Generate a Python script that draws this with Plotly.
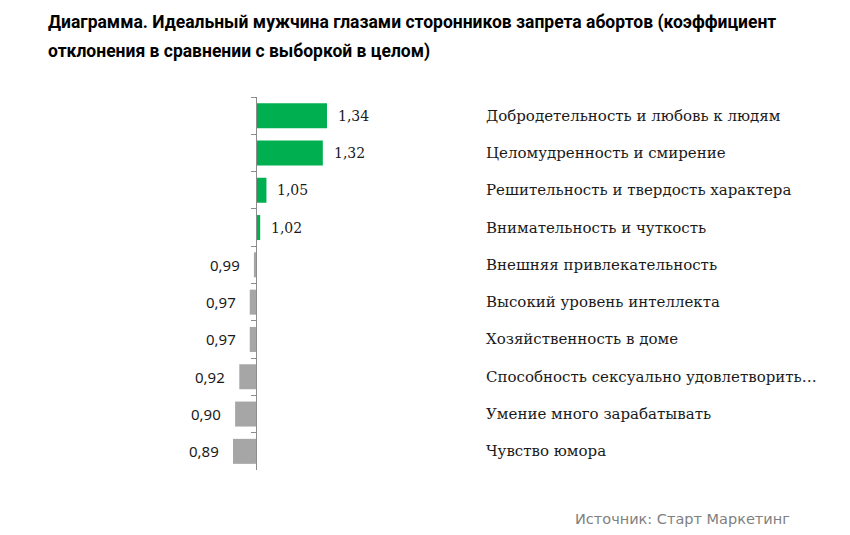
import plotly.graph_objects as go

categories = [
    "Добродетельность и любовь к людям",
    "Целомудренность и смирение",
    "Решительность и твердость характера",
    "Внимательность и чуткость",
    "Внешняя привлекательность",
    "Высокий уровень интеллекта",
    "Хозяйственность в доме",
    "Способность сексуально удовлетворить…",
    "Умение много зарабатывать",
    "Чувство юмора",
]
values = [1.34, 1.32, 1.05, 1.02, 0.99, 0.97, 0.97, 0.92, 0.90, 0.89]
baseline = 1.0

title_line1 = "Диаграмма. Идеальный мужчина глазами сторонников запрета абортов (коэффициент"
title_line2 = "отклонения в сравнении с выборкой в целом)"
source_text = "Источник: Старт Маркетинг"

GREEN = "#00B050"
GRAY = "#A6A6A6"
colors = [GREEN if v >= baseline else GRAY for v in values]

W, H = 850, 535
OFF = 8  # page body margin offset
ml, mr, mt, mb = 172, 20, 97 - OFF, 535 - (470 - OFF)
px_per_unit = 208.8
axis_px = 256 - OFF
x0 = baseline - (axis_px - ml) / px_per_unit
x1 = x0 + (W - ml - mr) / px_per_unit
label_x = baseline + (484 - 256) / px_per_unit

fig = go.Figure()
fig.add_trace(go.Bar(
    y=categories,
    x=[v - baseline for v in values],
    base=[baseline] * len(values),
    orientation="h",
    marker=dict(color=colors, line=dict(width=0)),
    width=0.67,
    hoverinfo="skip",
))

annotations = []
for c, v in zip(categories, values):
    txt = f"{v:.2f}".replace(".", ",")
    if v >= baseline:
        annotations.append(dict(x=v, y=c, xref="x", yref="y", text=txt, showarrow=False,
                                xanchor="left", xshift=9,
                                font=dict(family="DejaVu Serif", size=14, color="#1a1a1a")))
    else:
        annotations.append(dict(x=v, y=c, xref="x", yref="y", text=txt, showarrow=False,
                                xanchor="right", xshift=-12,
                                font=dict(family="Noto Sans", size=15, color="#1a1a1a")))
    annotations.append(dict(x=label_x, y=c, xref="x", yref="y", text=c, showarrow=False,
                            xanchor="left",
                            font=dict(family="DejaVu Serif", size=15, color="#1a1a1a")))

pw, ph = W - ml - mr, H - mt - mb


def px_ann(xp, yp, text, font):
    # xp, yp are page pixels from the top-left
    return dict(x=(xp - OFF - ml) / pw, y=((H - (yp - OFF)) - mb) / ph,
                xref="paper", yref="paper", text=text, showarrow=False,
                xanchor="left", yanchor="middle", font=font)


title_font = dict(family="Roboto", size=17.5, color="#000000")
annotations.append(px_ann(46, 22, "<b>" + title_line1 + "</b>", title_font))
annotations.append(px_ann(46, 52, "<b>" + title_line2 + "</b>", title_font))
annotations.append(px_ann(573, 519, source_text,
                          dict(family="DejaVu Sans", size=14.5, color="#808080")))

fig.update_layout(
    width=W, height=H,
    margin=dict(l=ml, r=mr, t=mt, b=mb),
    plot_bgcolor="white", paper_bgcolor="white",
    showlegend=False,
    annotations=annotations,
    xaxis=dict(range=[x0, x1], visible=False, fixedrange=True),
    yaxis=dict(
        type="category",
        categoryorder="array", categoryarray=categories,
        autorange="reversed",
        anchor="free", position=(axis_px - ml) / pw,
        showline=True, linecolor="#8c8c8c", linewidth=1,
        ticks="outside", tickson="boundaries", ticklen=5, tickcolor="#8c8c8c",
        showticklabels=False, showgrid=False, zeroline=False,
    ),
)

fig.write_html("out.html")
